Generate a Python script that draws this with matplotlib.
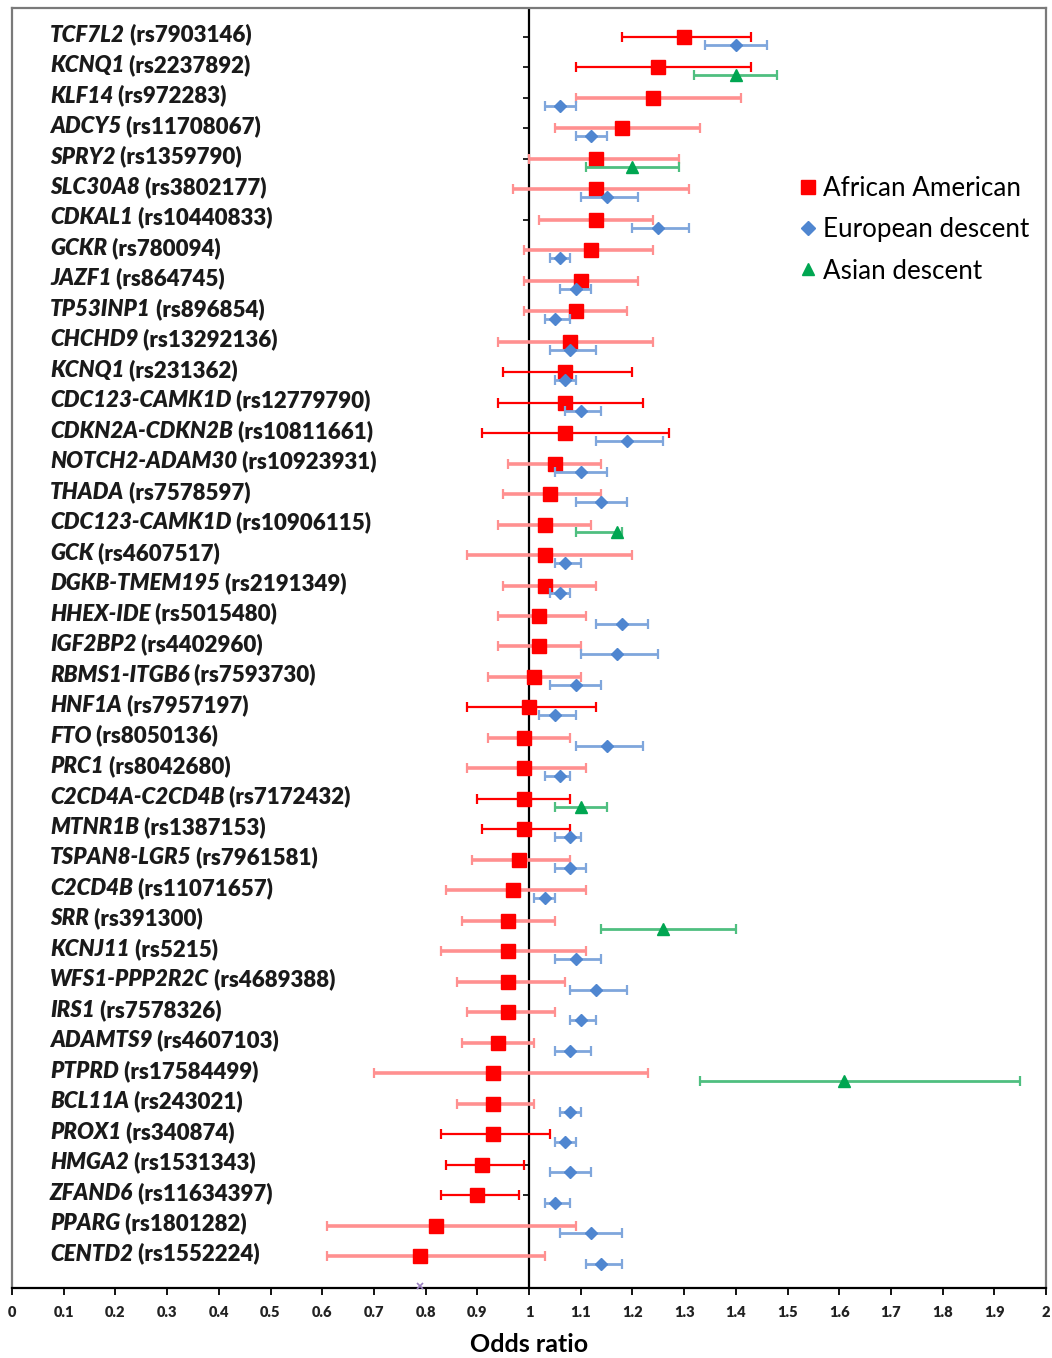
import matplotlib
matplotlib.use('Agg')
import matplotlib.pyplot as plt
from matplotlib.lines import Line2D
import numpy as np

plt.rcParams['font.family'] = ['Lato', 'DejaVu Sans']

genes = ['TCF7L2', 'KCNQ1', 'KLF14', 'ADCY5', 'SPRY2', 'SLC30A8', 'CDKAL1', 'GCKR',
         'JAZF1', 'TP53INP1', 'CHCHD9', 'KCNQ1', 'CDC123-CAMK1D', 'CDKN2A-CDKN2B',
         'NOTCH2-ADAM30', 'THADA', 'CDC123-CAMK1D', 'GCK', 'DGKB-TMEM195', 'HHEX-IDE',
         'IGF2BP2', 'RBMS1-ITGB6', 'HNF1A', 'FTO', 'PRC1', 'C2CD4A-C2CD4B', 'MTNR1B',
         'TSPAN8-LGR5', 'C2CD4B', 'SRR', 'KCNJ11', 'WFS1-PPP2R2C', 'IRS1', 'ADAMTS9',
         'PTPRD', 'BCL11A', 'PROX1', 'HMGA2', 'ZFAND6', 'PPARG', 'CENTD2']
snps = ['rs7903146', 'rs2237892', 'rs972283', 'rs11708067', 'rs1359790', 'rs3802177',
        'rs10440833', 'rs780094', 'rs864745', 'rs896854', 'rs13292136', 'rs231362',
        'rs12779790', 'rs10811661', 'rs10923931', 'rs7578597', 'rs10906115', 'rs4607517',
        'rs2191349', 'rs5015480', 'rs4402960', 'rs7593730', 'rs7957197', 'rs8050136',
        'rs8042680', 'rs7172432', 'rs1387153', 'rs7961581', 'rs11071657', 'rs391300',
        'rs5215', 'rs4689388', 'rs7578326', 'rs4607103', 'rs17584499', 'rs243021',
        'rs340874', 'rs1531343', 'rs11634397', 'rs1801282', 'rs1552224']

# African American odds ratios and 95% CI
aa_or = [1.30, 1.25, 1.24, 1.18, 1.13, 1.13, 1.13, 1.12, 1.10, 1.09, 1.08, 1.07, 1.07, 1.07,
         1.05, 1.04, 1.03, 1.03, 1.03, 1.02, 1.02, 1.01, 1.00, 0.99, 0.99, 0.99, 0.99, 0.98,
         0.97, 0.96, 0.96, 0.96, 0.96, 0.94, 0.93, 0.93, 0.93, 0.91, 0.90, 0.82, 0.79]
aa_lo = [1.18, 1.09, 1.09, 1.05, 1.00, 0.97, 1.02, 0.99, 0.99, 0.99, 0.94, 0.95, 0.94, 0.91,
         0.96, 0.95, 0.94, 0.88, 0.95, 0.94, 0.94, 0.92, 0.88, 0.92, 0.88, 0.90, 0.91, 0.89,
         0.84, 0.87, 0.83, 0.86, 0.88, 0.87, 0.70, 0.86, 0.83, 0.84, 0.83, 0.61, 0.61]
aa_hi = [1.43, 1.43, 1.41, 1.33, 1.29, 1.31, 1.24, 1.24, 1.21, 1.19, 1.24, 1.20, 1.22, 1.27,
         1.14, 1.14, 1.12, 1.20, 1.13, 1.11, 1.10, 1.10, 1.13, 1.08, 1.11, 1.08, 1.08, 1.08,
         1.11, 1.05, 1.11, 1.07, 1.05, 1.01, 1.23, 1.01, 1.04, 0.99, 0.98, 1.09, 1.03]
# 1 = solid red bar, 0 = faded bar
aa_sig = [1, 1, 0, 0, 0, 0, 0, 0, 0, 0, 0, 1, 1, 1, 0, 0, 0, 0, 0, 0, 0, 0, 1, 0, 0, 1, 1, 0,
          0, 0, 0, 0, 0, 0, 0, 0, 1, 1, 1, 0, 0]

# European descent (None = not shown)
eu_or = [1.40, None, 1.06, 1.12, None, 1.15, 1.25, 1.06, 1.09, 1.05, 1.08, 1.07, 1.10, 1.19,
         1.10, 1.14, None, 1.07, 1.06, 1.18, 1.17, 1.09, 1.05, 1.15, 1.06, None, 1.08, 1.08,
         1.03, None, 1.09, 1.13, 1.10, 1.08, None, 1.08, 1.07, 1.08, 1.05, 1.12, 1.14]
eu_lo = [1.34, None, 1.03, 1.09, None, 1.10, 1.20, 1.04, 1.06, 1.03, 1.04, 1.05, 1.07, 1.13,
         1.05, 1.09, None, 1.05, 1.04, 1.13, 1.10, 1.04, 1.02, 1.09, 1.03, None, 1.05, 1.05,
         1.01, None, 1.05, 1.08, 1.08, 1.05, None, 1.06, 1.05, 1.04, 1.03, 1.06, 1.11]
eu_hi = [1.46, None, 1.09, 1.15, None, 1.21, 1.31, 1.08, 1.12, 1.08, 1.13, 1.09, 1.14, 1.26,
         1.15, 1.19, None, 1.10, 1.08, 1.23, 1.25, 1.14, 1.09, 1.22, 1.08, None, 1.10, 1.11,
         1.05, None, 1.14, 1.19, 1.13, 1.12, None, 1.10, 1.09, 1.12, 1.08, 1.18, 1.18]

# Asian descent
as_rows = [1, 4, 16, 25, 29, 34]
as_or = [1.40, 1.20, 1.17, 1.10, 1.26, 1.61]
as_lo = [1.32, 1.11, 1.09, 1.05, 1.14, 1.33]
as_hi = [1.48, 1.29, 1.18, 1.15, 1.40, 1.95]

xticks = [round(0.1 * k, 1) for k in range(21)]
xticklabels = ['0'] + [f'{t:g}' for t in xticks[1:]]

RED = '#ff0000'
RED_LIGHT = '#ff9090'
BLUE = '#4f86d0'
GREEN = '#00a651'


def draw_ci(ax, x, lo, hi, y, color, lw, ms, marker, mcolor, z):
    x = np.array(x, dtype=float)
    err = np.array([x - np.array(lo, dtype=float), np.array(hi, dtype=float) - x])
    ax.errorbar(x, y, xerr=err, fmt='none', ecolor=color, elinewidth=lw,
                capsize=3.5, capthick=1.6, zorder=z)
    ax.plot(x, y, ls='none', marker=marker, ms=ms, color=mcolor, mec=mcolor, zorder=z + 0.5)


def main():
    n = len(genes)
    rows = np.arange(n)
    off = 0.26

    fig = plt.figure(figsize=(10.52, 13.58), dpi=100)
    ax = fig.add_axes([12 / 1052, 1 - 1288 / 1358, 1034 / 1052, 1280 / 1358])
    ax.set_xlim(0, 2)
    ax.set_ylim(n - 1 + 1.05, -0.95)

    # reference line with row ticks
    ax.axvline(1, color='black', lw=1.6, zorder=1)
    ax.plot([1] * n, rows, ls='none', marker=0, ms=4, mew=1.2, color='black', zorder=1)

    # African American
    sig = np.array(aa_sig) == 1
    for flag, col, lw in [(False, RED_LIGHT, 2.6), (True, RED, 1.6)]:
        m = sig == flag
        draw_ci(ax, np.array(aa_or)[m], np.array(aa_lo)[m], np.array(aa_hi)[m],
                rows[m], col, lw, 10, 's', RED, 3)

    # European descent
    eu_idx = [i for i in range(n) if eu_or[i] is not None]
    draw_ci(ax, [eu_or[i] for i in eu_idx], [eu_lo[i] for i in eu_idx],
            [eu_hi[i] for i in eu_idx], np.array(eu_idx) + off,
            '#7fa6dc', 2.0, 6, 'D', BLUE, 5)

    # Asian descent
    draw_ci(ax, as_or, as_lo, as_hi, np.array(as_rows) + off,
            '#4fbf80', 2.0, 8, '^', GREEN, 5)

    # stray marker on the axis
    ax.plot([0.79], [n - 1 + 1.0], ls='none', marker='x', ms=5, mew=1.2,
            color='#9a7fc0', clip_on=False, zorder=6)

    # row labels: italic gene + plain rsID
    for i in range(n):
        t = ax.text(0.0735, i - 0.06, genes[i], fontsize=16, fontweight='heavy',
                    fontstyle='italic', va='center', ha='left', color='#1a1a1a')
        ax.annotate(f' ({snps[i]})', xy=(1, 0), xycoords=t, va='bottom', ha='left',
                    fontsize=16, fontweight='heavy', color='#1a1a1a')

    ax.set_xticks(xticks)
    ax.set_xticklabels(xticklabels, fontsize=10.5, fontweight='heavy', color='#222222')
    ax.tick_params(axis='x', direction='out', length=5, width=1.3, pad=8)
    ax.set_yticks([])
    ax.set_xlabel('Odds ratio', fontsize=18, fontweight='bold', labelpad=10)

    for s in ['left', 'top', 'right']:
        ax.spines[s].set_color('#7a7a7a')
        ax.spines[s].set_linewidth(1.6)
    ax.spines['bottom'].set_color('black')
    ax.spines['bottom'].set_linewidth(1.6)

    handles = [Line2D([], [], ls='none', marker='s', ms=10, color=RED),
               Line2D([], [], ls='none', marker='D', ms=7, color=BLUE),
               Line2D([], [], ls='none', marker='^', ms=9, color=GREEN)]
    ax.legend(handles, ['African American', 'European descent', 'Asian descent'],
              loc='center left', bbox_to_anchor=(0.762, 0.8266), frameon=False,
              fontsize=18.7, handlelength=0.6, handletextpad=0.3, labelspacing=0.62,
              borderpad=0, borderaxespad=0)

    fig.savefig('out.png', dpi=100)


if __name__ == '__main__':
    main()
